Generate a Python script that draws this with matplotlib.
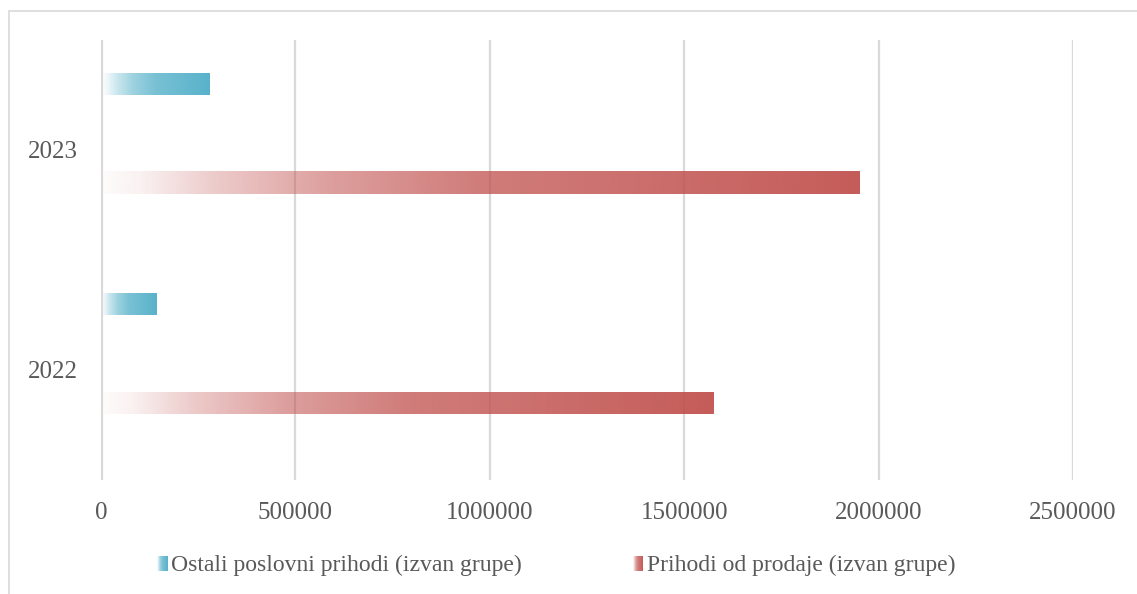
import numpy as np
import matplotlib.pyplot as plt

# data
years = ['2022', '2023']
ostali = [144000, 280000]        # Ostali poslovni prihodi (izvan grupe)
prodaja = [1576000, 1950000]     # Prihodi od prodaje (izvan grupe)
series_names = ['Ostali poslovni prihodi (izvan grupe)',
                'Prihodi od prodaje (izvan grupe)']
x_ticks = [0, 500000, 1000000, 1500000, 2000000, 2500000]

blue = '#4bacc6'
red = '#c0504d'
txt = '#595959'
grid_c = '#d9d9d9'

plt.rcParams['font.family'] = ['Liberation Serif', 'DejaVu Serif']


def gradient(color, n=256):
    # white -> colour ramp, done through alpha so gridlines show a bit
    rgb = np.array(plt.matplotlib.colors.to_rgb(color))
    t = np.linspace(0, 1, n)
    a = np.interp(t, [0, 0.05, 0.15, 0.3, 0.5, 1.0],
                  [0.02, 0.08, 0.3, 0.55, 0.75, 0.93])
    img = np.zeros((1, n, 4))
    img[0, :, :3] = rgb
    img[0, :, 3] = a
    return img


fig = plt.figure(figsize=(11.37, 5.94), dpi=100)
ax = fig.add_axes([101 / 1137, (594 - 480) / 594, 972 / 1137, 440 / 594])

pos = np.arange(len(years)) + 0.5
bh = 0.1
for i, p in enumerate(pos):
    for val, off, col in [(ostali[i], 0.3, blue), (prodaja[i], -0.15, red)]:
        ax.imshow(gradient(col), extent=[0, val, p + off - bh / 2, p + off + bh / 2],
                  aspect='auto', interpolation='bilinear', zorder=3)

ax.set_xlim(0, 2500000)
ax.set_ylim(0, 2)
ax.set_xticks(x_ticks)
ax.set_xticklabels([str(v) for v in x_ticks])
ax.set_yticks(pos)
ax.set_yticklabels(years)
ax.tick_params(axis='both', length=0, labelsize=18, colors=txt)
ax.tick_params(axis='x', pad=16)
ax.tick_params(axis='y', pad=16.5)
for s in ax.spines.values():
    s.set_visible(False)
for v in x_ticks[1:]:
    ax.axvline(v, color=grid_c, lw=1.6, zorder=1)
ax.axvline(0, color=grid_c, lw=3, zorder=4)

# legend made by hand: gradient squares + labels
for x0, name, col in [(157, series_names[0], blue), (633, series_names[1], red)]:
    lax = fig.add_axes([x0 / 1137, (594 - 571) / 594, 10 / 1137, 15 / 594])
    lax.imshow(gradient(col, 32), aspect='auto', extent=[0, 1, 0, 1])
    lax.axis('off')
    fig.text((x0 + 14) / 1137, (594 - 565) / 594, name, fontsize=17,
             color=txt, va='center', ha='left')

# chart area border (runs off the right/bottom edge)
fig.add_artist(plt.Rectangle((8.5 / 1137, -0.01), 1.1, 0.9823 + 0.01,
                             transform=fig.transFigure, fill=False,
                             edgecolor=grid_c, lw=1.2))

fig.savefig('out.png', dpi=100)
